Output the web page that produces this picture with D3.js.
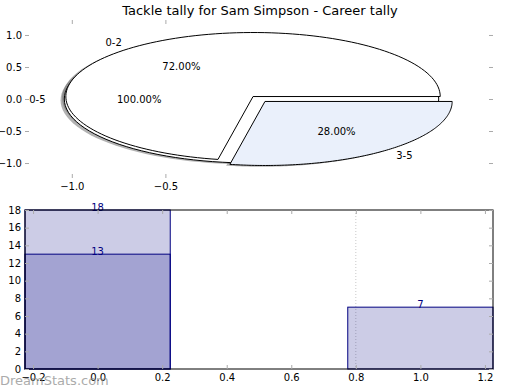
<!DOCTYPE html>
<html>
<head>
<meta charset="utf-8">
<script src="https://d3js.org/d3.v7.min.js"></script>
<style>
    body { margin: 0; background: #fff; }
    text { font-family: "DejaVu Sans", sans-serif; }
</style>
</head>
<body>
<div id="chart"></div>
<script>
// Chart data
const chartTitle = "Tackle tally for Sam Simpson - Career tally";

// outer pie (whole range) and inner pie (split by tally band)
const outerLabels = ["0-5"];
const outerValues = [25];
const innerLabels = ["0-2", "3-5"];
const innerValues = [18, 7];

// bars: totals at each position, plus the overlaid second series
const barPositions = [0, 1];
const barTotals = [18, 7];
const barOverlayPositions = [0];
const barOverlayValues = [13];

// tick labels
const pieXTicks = [-1.0, -0.5];
const pieYTicks = [1.0, 0.5, 0.0, -0.5, -1.0];
const barXTicks = [-0.2, 0.0, 0.2, 0.4, 0.6, 0.8, 1.0, 1.2];
const barYTicks = [0, 2, 4, 6, 8, 10, 12, 14, 16, 18];
const barGridX = [0.8];

const width = 520;
const height = 390;

const svg = d3.select("#chart").append("svg")
    .attr("width", width)
    .attr("height", height);

// Title
svg.append("text")
    .attr("x", 260)
    .attr("y", 15)
    .attr("text-anchor", "middle")
    .style("font-size", "13px")
    .text(chartTitle);

// ---------- Pie panel ----------
const pieBox = { left: 25, right: 493, top: 20, bottom: 178 };
const px = d3.scaleLinear().domain([-1.25, 1.25]).range([pieBox.left, pieBox.right]);
const py = d3.scaleLinear().domain([-1.234, 1.234]).range([pieBox.bottom, pieBox.top]);

const outerExplode = [0.04];
const innerExplode = [0.05, 0.05];
const outerColors = ["#ffffff"];
const innerColors = ["#ffffff", "#eaf0fb"];

const pieGen = d3.pie().sort(null);
const lineGen = d3.line().x(d => px(d[0])).y(d => py(d[1]));

// build wedge geometry in data units (angles counter-clockwise from +x, like matplotlib)
function buildWedges(values, labels, explode, colors) {
    return pieGen(values).map((d, i) => {
        const t1 = d.startAngle;
        const t2 = d.endAngle;
        const mid = (t1 + t2) / 2;
        const cx = explode[i] * Math.cos(mid);
        const cy = explode[i] * Math.sin(mid);
        const pts = [];
        const full = (t2 - t1) >= 2 * Math.PI - 1e-6;
        if (!full) pts.push([cx, cy]);
        const n = 120;
        for (let k = 0; k <= n; k++) {
            const t = t1 + (t2 - t1) * k / n;
            pts.push([cx + Math.cos(t), cy + Math.sin(t)]);
        }
        return {
            pts: pts,
            mid: mid,
            cx: cx,
            cy: cy,
            label: labels[i],
            pct: (t2 - t1) / (2 * Math.PI) * 100,
            color: colors[i]
        };
    });
}

const outerWedges = buildWedges(outerValues, outerLabels, outerExplode, outerColors);
const innerWedges = buildWedges(innerValues, innerLabels, innerExplode, innerColors);
const allWedges = outerWedges.concat(innerWedges);

const pieG = svg.append("g");

// shadows first (they sit behind every wedge)
pieG.selectAll(".shadow")
    .data(allWedges)
    .enter().append("path")
    .attr("class", "shadow")
    .attr("d", d => lineGen(d.pts.map(p => [p[0] - 0.02, p[1] - 0.02])) + "Z")
    .style("fill", "#666")
    .style("opacity", 0.5);

pieG.selectAll(".wedge")
    .data(allWedges)
    .enter().append("path")
    .attr("class", "wedge")
    .attr("d", d => lineGen(d.pts) + "Z")
    .style("fill", d => d.color)
    .style("stroke", "black")
    .style("stroke-width", 1)
    .style("stroke-linejoin", "miter");

// wedge labels (outside) and percentages (inside)
pieG.selectAll(".wlabel")
    .data(allWedges)
    .enter().append("text")
    .attr("class", "wlabel")
    .attr("x", d => px(d.cx + 1.1 * Math.cos(d.mid)))
    .attr("y", d => py(d.cy + 1.1 * Math.sin(d.mid)))
    .attr("dy", "0.35em")
    .attr("text-anchor", d => Math.cos(d.mid) < 0 ? "end" : "start")
    .style("font-size", "10px")
    .text(d => d.label);

pieG.selectAll(".pct")
    .data(allWedges)
    .enter().append("text")
    .attr("class", "pct")
    .attr("x", d => px(d.cx + 0.6 * Math.cos(d.mid)))
    .attr("y", d => py(d.cy + 0.6 * Math.sin(d.mid)))
    .attr("dy", "0.35em")
    .attr("text-anchor", "middle")
    .style("font-size", "10px")
    .text(d => d.pct.toFixed(2) + "%");

// pie axes: inward gray ticks, no frame
function styleAxis(g) {
    g.select(".domain").remove();
    g.selectAll(".tick line").style("stroke", "#aaa");
    g.selectAll(".tick text")
        .style("font-size", "10px")
        .style("font-family", "DejaVu Sans, sans-serif")
        .style("fill", "#000");
}

svg.append("g")
    .attr("transform", `translate(${pieBox.left},0)`)
    .call(d3.axisLeft(py).tickValues(pieYTicks).tickSize(-4).tickPadding(3).tickFormat(d3.format(".1f")))
    .call(styleAxis);
svg.append("g")
    .attr("transform", `translate(${pieBox.right},0)`)
    .call(d3.axisRight(py).tickValues(pieYTicks).tickSize(-4).tickFormat(""))
    .call(styleAxis);
svg.append("g")
    .attr("transform", `translate(0,${pieBox.bottom})`)
    .call(d3.axisBottom(px).tickValues(pieXTicks).tickSize(-4).tickPadding(5).tickFormat(d3.format(".1f")))
    .call(styleAxis);
svg.append("g")
    .attr("transform", `translate(0,${pieBox.top})`)
    .call(d3.axisTop(px).tickValues(pieXTicks).tickSize(-4).tickFormat(""))
    .call(styleAxis);

// ---------- Bar panel ----------
const barBox = { left: 25, right: 493, top: 210, bottom: 369 };
const barWidth = 0.45;
const bx = d3.scaleLinear().domain([-0.225, 1.225]).range([barBox.left, barBox.right]);
const by = d3.scaleLinear().domain([0, 18]).range([barBox.bottom, barBox.top]);

const barG = svg.append("g");

// dotted grid line
barG.selectAll(".grid")
    .data(barGridX)
    .enter().append("line")
    .attr("x1", d => bx(d))
    .attr("x2", d => bx(d))
    .attr("y1", barBox.top)
    .attr("y2", barBox.bottom)
    .style("stroke", "#c8c8c8")
    .style("stroke-dasharray", "1,2");

function drawBars(positions, values) {
    const data = positions.map((p, i) => ({ pos: p, value: values[i] }));
    barG.selectAll(null)
        .data(data)
        .enter().append("rect")
        .attr("x", d => bx(d.pos - barWidth / 2))
        .attr("y", d => by(d.value))
        .attr("width", d => bx(d.pos + barWidth / 2) - bx(d.pos - barWidth / 2))
        .attr("height", d => by(0) - by(d.value))
        .style("fill", "navy")
        .style("fill-opacity", 0.2)
        .style("stroke", "navy")
        .style("stroke-width", 1);

    barG.selectAll(null)
        .data(data)
        .enter().append("text")
        .attr("x", d => bx(d.pos))
        .attr("y", d => by(d.value) + 1)
        .attr("text-anchor", "middle")
        .style("font-size", "10px")
        .style("fill", "navy")
        .text(d => d.value);
}

drawBars(barPositions, barTotals);
drawBars(barOverlayPositions, barOverlayValues);

// frame
svg.append("rect")
    .attr("x", barBox.left)
    .attr("y", barBox.top)
    .attr("width", barBox.right - barBox.left)
    .attr("height", barBox.bottom - barBox.top)
    .style("fill", "none")
    .style("stroke", "black")
    .style("stroke-width", 1);

svg.append("g")
    .attr("transform", `translate(${barBox.left},0)`)
    .call(d3.axisLeft(by).tickValues(barYTicks).tickSize(-4).tickPadding(4))
    .call(styleAxis);
svg.append("g")
    .attr("transform", `translate(${barBox.right},0)`)
    .call(d3.axisRight(by).tickValues(barYTicks).tickSize(-4).tickFormat(""))
    .call(styleAxis);
svg.append("g")
    .attr("transform", `translate(0,${barBox.bottom})`)
    .call(d3.axisBottom(bx).tickValues(barXTicks).tickSize(-4).tickPadding(5).tickFormat(d3.format(".1f")))
    .call(styleAxis);
svg.append("g")
    .attr("transform", `translate(0,${barBox.top})`)
    .call(d3.axisTop(bx).tickValues(barXTicks).tickSize(-4).tickFormat(""))
    .call(styleAxis);

// watermark (overlaps the first tick labels, as in the source image)
svg.append("text")
    .attr("x", 0)
    .attr("y", 385)
    .style("font-size", "13px")
    .style("fill", "#888")
    .style("opacity", 0.7)
    .text("DreamStats.com");
</script>
</body>
</html>
